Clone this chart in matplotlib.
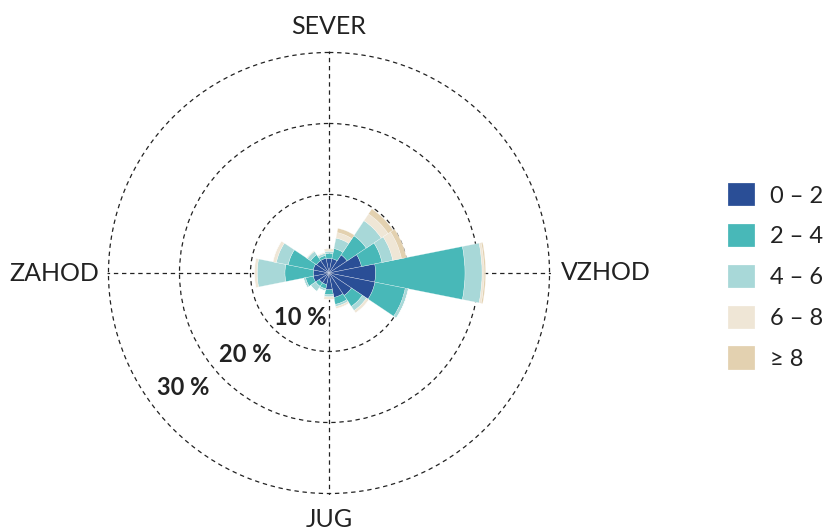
import matplotlib.pyplot as plt
import numpy as np

plt.rcParams['font.family'] = ['Lato', 'DejaVu Sans']

# 16 smeri, od severa v smeri urinega kazalca
directions = ["S", "SSV", "SV", "VSV", "V", "VJV", "JV", "JJV",
              "J", "JJZ", "JZ", "ZJZ", "Z", "ZSZ", "SZ", "SSZ"]
classes = ["0 – 2", "2 – 4", "4 – 6", "6 – 8", "≥ 8"]
colors = ["#2a4e96", "#48b8b8", "#a8d8d8", "#efe6d6", "#e3d1b0"]

# pogostost (%) po razredih hitrosti
speed_0_2 = [1.0, 1.0, 2.0, 3.6, 5.5, 5.55, 2.75, 2.45, 1.3, 0.6, 0.6, 1.2, 1.15, 1.2, 1.05, 1.05]
speed_2_4 = [0.7, 1.45, 3.25, 2.95, 12.6, 4.35, 1.85, 1.0, 0.7, 0.6, 0.6, 1.1, 4.0, 3.6, 1.0, 0.4]
speed_4_6 = [0.3, 1.5, 2.55, 1.55, 2.4, 0.45, 0.7, 0.3, 0.3, 0.3, 0.85, 0.3, 3.9, 1.7, 0.55, 0.3]
speed_6_8 = [0.25, 0.8, 1.15, 1.25, 0.3, 0.0, 0.4, 0.3, 0.4, 0.0, 0.0, 0.0, 0.4, 0.5, 0.15, 0.15]
speed_8 = [0.1, 0.6, 0.85, 0.7, 0.2, 0.0, 0.0, 0.0, 0.0, 0.0, 0.0, 0.0, 0.0, 0.0, 0.0, 0.0]

ring_values = [10, 20, 30]
ring_labels = ["10 %", "20 %", "30 %"]
compass = ["SEVER", "VZHOD", "JUG", "ZAHOD"]

R0 = -1.06   # sredisce grafa
RMAX = 30.2

series = np.array([speed_0_2, speed_2_4, speed_4_6, speed_6_8, speed_8])
n = len(directions)
theta = np.deg2rad(np.arange(n) * 360 / n)
cum = np.cumsum(series, axis=0)
lower = np.vstack([np.full(n, R0), cum[:-1]])

fig = plt.figure(figsize=(8.23, 5.32), dpi=100)
rad_px = (RMAX - R0) * 7.1
ax = fig.add_axes([(329 - rad_px) / 823, (259 - rad_px) / 532,
                   2 * rad_px / 823, 2 * rad_px / 532], projection='polar')
ax.set_theta_zero_location('N')
ax.set_theta_direction(-1)

for i in range(len(classes)):
    ax.bar(theta, cum[i] - lower[i], bottom=lower[i], width=2 * np.pi / n,
           color=colors[i], edgecolor=(1, 1, 1, 0.6), linewidth=0.3,
           label=classes[i], zorder=2)

ax.set_rlim(R0, RMAX)
ax.set_rticks(ring_values)
ax.set_yticklabels([])
ax.set_thetagrids([0, 90, 180, 270], labels=[])
ax.grid(True, color='#222222', linestyle=(0, (3.5, 3)), linewidth=0.9)
ax.spines['polar'].set_visible(False)

# oznake obrocev
label_pos = [(213.4, 6.4), (225.7, 15.47), (231.8, 25.12)]
for (ang, r), txt in zip(label_pos, ring_labels):
    ax.text(np.deg2rad(ang), r, txt, fontsize=17, fontweight='bold',
            color='#222222', ha='center', va='center', zorder=3)

# strani neba
compass_pos = [(0, 33.7), (90, 37.9), (180, 33.7), (270, 37.6)]
for (ang, r), txt in zip(compass_pos, compass):
    ax.text(np.deg2rad(ang), r, txt, fontsize=18, color='#222222',
            ha='center', va='center', clip_on=False)

leg = fig.legend(loc='center left', bbox_to_anchor=(728 / 823, 1 - 276.5 / 532),
                 frameon=False, fontsize=17, handlelength=1.14, handleheight=1.14,
                 handletextpad=0.64, labelspacing=0.73, borderpad=0,
                 borderaxespad=0)
for t in leg.get_texts():
    t.set_color('#222222')

fig.savefig('out.png', dpi=100)
